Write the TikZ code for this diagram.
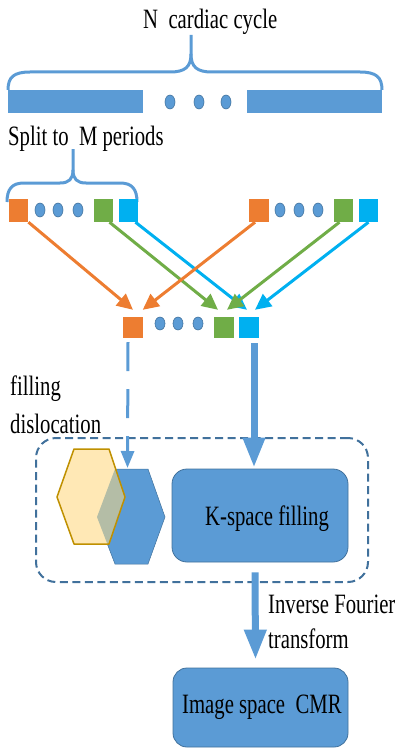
\documentclass[tikz,border=0pt]{standalone}
\usepackage{fontspec}
\setmainfont{Liberation Serif}
\usepackage{graphicx}
\usetikzlibrary{arrows.meta,shapes.geometric}
\definecolor{mblue}{HTML}{5B9BD5}
\definecolor{dblue}{HTML}{41719C}
\definecolor{morange}{HTML}{ED7D31}
\definecolor{mgreen}{HTML}{70AD47}
\definecolor{mcyan}{HTML}{00B0F0}
\definecolor{myellow}{HTML}{FFE8B5}
\definecolor{mgold}{HTML}{BF9000}
\definecolor{overlapc}{HTML}{B4BDA6}
\newcommand\sqz[1]{\scalebox{0.74}[1]{#1}}
\begin{document}
\begin{tikzpicture}[x=1pt,y=-1pt,
  lbl/.style={inner sep=0pt,anchor=base west,font=\fontsize{28}{32}\selectfont},
  dotn/.style={ellipse,draw=dblue,line width=0.6pt,fill=mblue,minimum width=10pt,minimum height=14pt,inner sep=0pt},
  sqtop/.style={rectangle,fill=#1,minimum width=19.5pt,minimum height=23pt,inner sep=0pt},
  sqbot/.style={rectangle,fill=#1,minimum width=20pt,minimum height=21pt,inner sep=0pt},
  carr/.style={draw=#1,line width=3pt,-{Triangle[length=16pt,width=15pt]}},
  brace/.style={draw=mblue,line width=3pt},
  bigbox/.style={draw=dblue,line width=0.8pt,fill=mblue,rounded corners=15pt},
  thick arr/.style={draw=mblue,line width=7pt,-{Triangle[length=30pt,width=21pt]}}
]
\useasboundingbox (0,0) rectangle (398,749);

% title
\node[lbl] (title) at (143,29) {\sqz{N\ \ cardiac cycle}};

% big brace
\draw[brace] (8,90) .. controls (8,77) and (14,72) .. (30,72) -- (170,72)
  .. controls (185,72) and (191,67) .. (191,54) -- (191,35);
\draw[brace] (191,54) .. controls (191,67) and (197,72) .. (212,72) -- (360,72)
  .. controls (376,72) and (382,77) .. (382,90);

% bars
\fill[mblue] (8,90) rectangle (143,113);
\fill[mblue] (247,90) rectangle (382,113);
\node[dotn] (d1) at (170,102) {};
\node[dotn] (d2) at (199,102) {};
\node[dotn] (d3) at (226,102) {};

% split label
\node[lbl] (split) at (8,145) {\sqz{Split to\ \ M periods}};

% small brace
\draw[brace] (7,202) .. controls (7,189) and (12,183) .. (24,183) -- (60,183)
  .. controls (69,183) and (73,179) .. (73,170) -- (73,149);
\draw[brace] (73,170) .. controls (73,179) and (77,183) .. (86,183) -- (120,183)
  .. controls (132,183) and (137,189) .. (137,202);

% top row
\node[sqtop=morange] (lo) at (18.5,210.5) {};
\node[dotn] (ld1) at (40,210) {};
\node[dotn] (ld2) at (58,210) {};
\node[dotn] (ld3) at (78,210) {};
\node[sqtop=mgreen] (lg) at (103.5,210.5) {};
\node[sqtop=mcyan] (lb) at (128.5,210.5) {};

\node[sqtop=morange] (ro) at (259,210.5) {};
\node[dotn] (rd1) at (280,210) {};
\node[dotn] (rd2) at (299,210) {};
\node[dotn] (rd3) at (318,210) {};
\node[sqtop=mgreen] (rg) at (343.5,210.5) {};
\node[sqtop=mcyan] (rb) at (368.5,210.5) {};

% bottom row
\node[sqbot=morange] (bo) at (132.5,327.5) {};
\node[dotn,minimum height=13pt] (bd1) at (160,323.5) {};
\node[dotn,minimum height=13pt] (bd2) at (178,323.5) {};
\node[dotn,minimum height=13pt] (bd3) at (198,323.5) {};
\node[sqbot=mgreen] (bg) at (223.5,327.5) {};
\node[sqbot=mcyan] (bb) at (249,327.5) {};

% crossing arrows
\draw[carr=mcyan] ([xshift=-3pt]lb.south east) -- ([xshift=-2pt,yshift=7pt]bb.north);
\draw[carr=mgreen] ([xshift=6pt]lg.south) -- ([xshift=-5.5pt,yshift=7pt]bg.north);
\draw[carr=morange] ([xshift=6pt]ro.south west) -- ([yshift=7pt]bo.north east);
\draw[carr=morange] (lo.south east) -- ([xshift=0.5pt,yshift=7pt]bo.north);
\draw[carr=mgreen] ([xshift=-4pt]rg.south) -- ([xshift=3.5pt,yshift=7pt]bg.north);
\draw[carr=mcyan] (rb.south) -- ([xshift=6pt,yshift=7pt]bb.north);

% filling dislocation label
\node[lbl] (fill1) at (10,395) {\sqz{filling}};
\node[lbl] (fill2) at (10,433) {\sqz{dislocation}};

% dashed frame
\node[draw=dblue,line width=2pt,dash pattern=on 8pt off 4.5pt,rounded corners=20pt,
  minimum width=332pt,minimum height=144pt,inner sep=0pt] (frame) at (202,510) {};

% hexagons
\fill[mblue,draw=dblue,line width=0.5pt] (115,469) -- (148,469) -- (165,517) -- (148,564) -- (115,564) -- (97,517) -- cycle;
\fill[myellow] (74,449) -- (109,449) -- (125,497) -- (109,544) -- (74,544) -- (57,497) -- cycle;
\begin{scope}
  \clip (115,469) -- (148,469) -- (165,517) -- (148,564) -- (115,564) -- (97,517) -- cycle;
  \fill[overlapc] (74,449) -- (109,449) -- (125,497) -- (109,544) -- (74,544) -- (57,497) -- cycle;
\end{scope}
\draw[mgold,line width=1.5pt,line join=round] (74,449) -- (109,449) -- (125,497) -- (109,544) -- (74,544) -- (57,497) -- cycle;
\coordinate (hexb) at (127.5,468);

% K-space box
\node[bigbox,minimum width=176pt,minimum height=93pt,inner sep=0pt] (kbox) at (260,515.5) {};
\node[lbl] (ktext) at (205,525) {\sqz{K-space filling}};

% dashed arrow
\draw[draw=mblue,line width=3pt,dash pattern=on 29pt off 18pt,-{Triangle[length=17pt,width=13pt]}]
  ([xshift=-4.5pt,yshift=-4pt]bo.south) -- (hexb);

% solid arrow to kbox
\draw[thick arr] ([xshift=5pt,yshift=-5pt]bb.south) -- ([xshift=-6pt,yshift=1pt]kbox.north);

% image box
\node[bigbox,rounded corners=14pt,minimum width=175pt,minimum height=79pt,inner sep=0pt] (img) at (260.5,707.5) {};
\node[lbl] (itext) at (182,713) {\sqz{Image space\ \ CMR}};

% bottom arrow
\draw[thick arr] ([xshift=-5pt,yshift=-10pt]kbox.south) -- ([xshift=-5pt,yshift=8pt]img.north);
\node[lbl] (ift1) at (268,613) {\sqz{Inverse Fourier}};
\node[lbl] (ift2) at (268,648) {\sqz{transform}};
\end{tikzpicture}
\end{document}
